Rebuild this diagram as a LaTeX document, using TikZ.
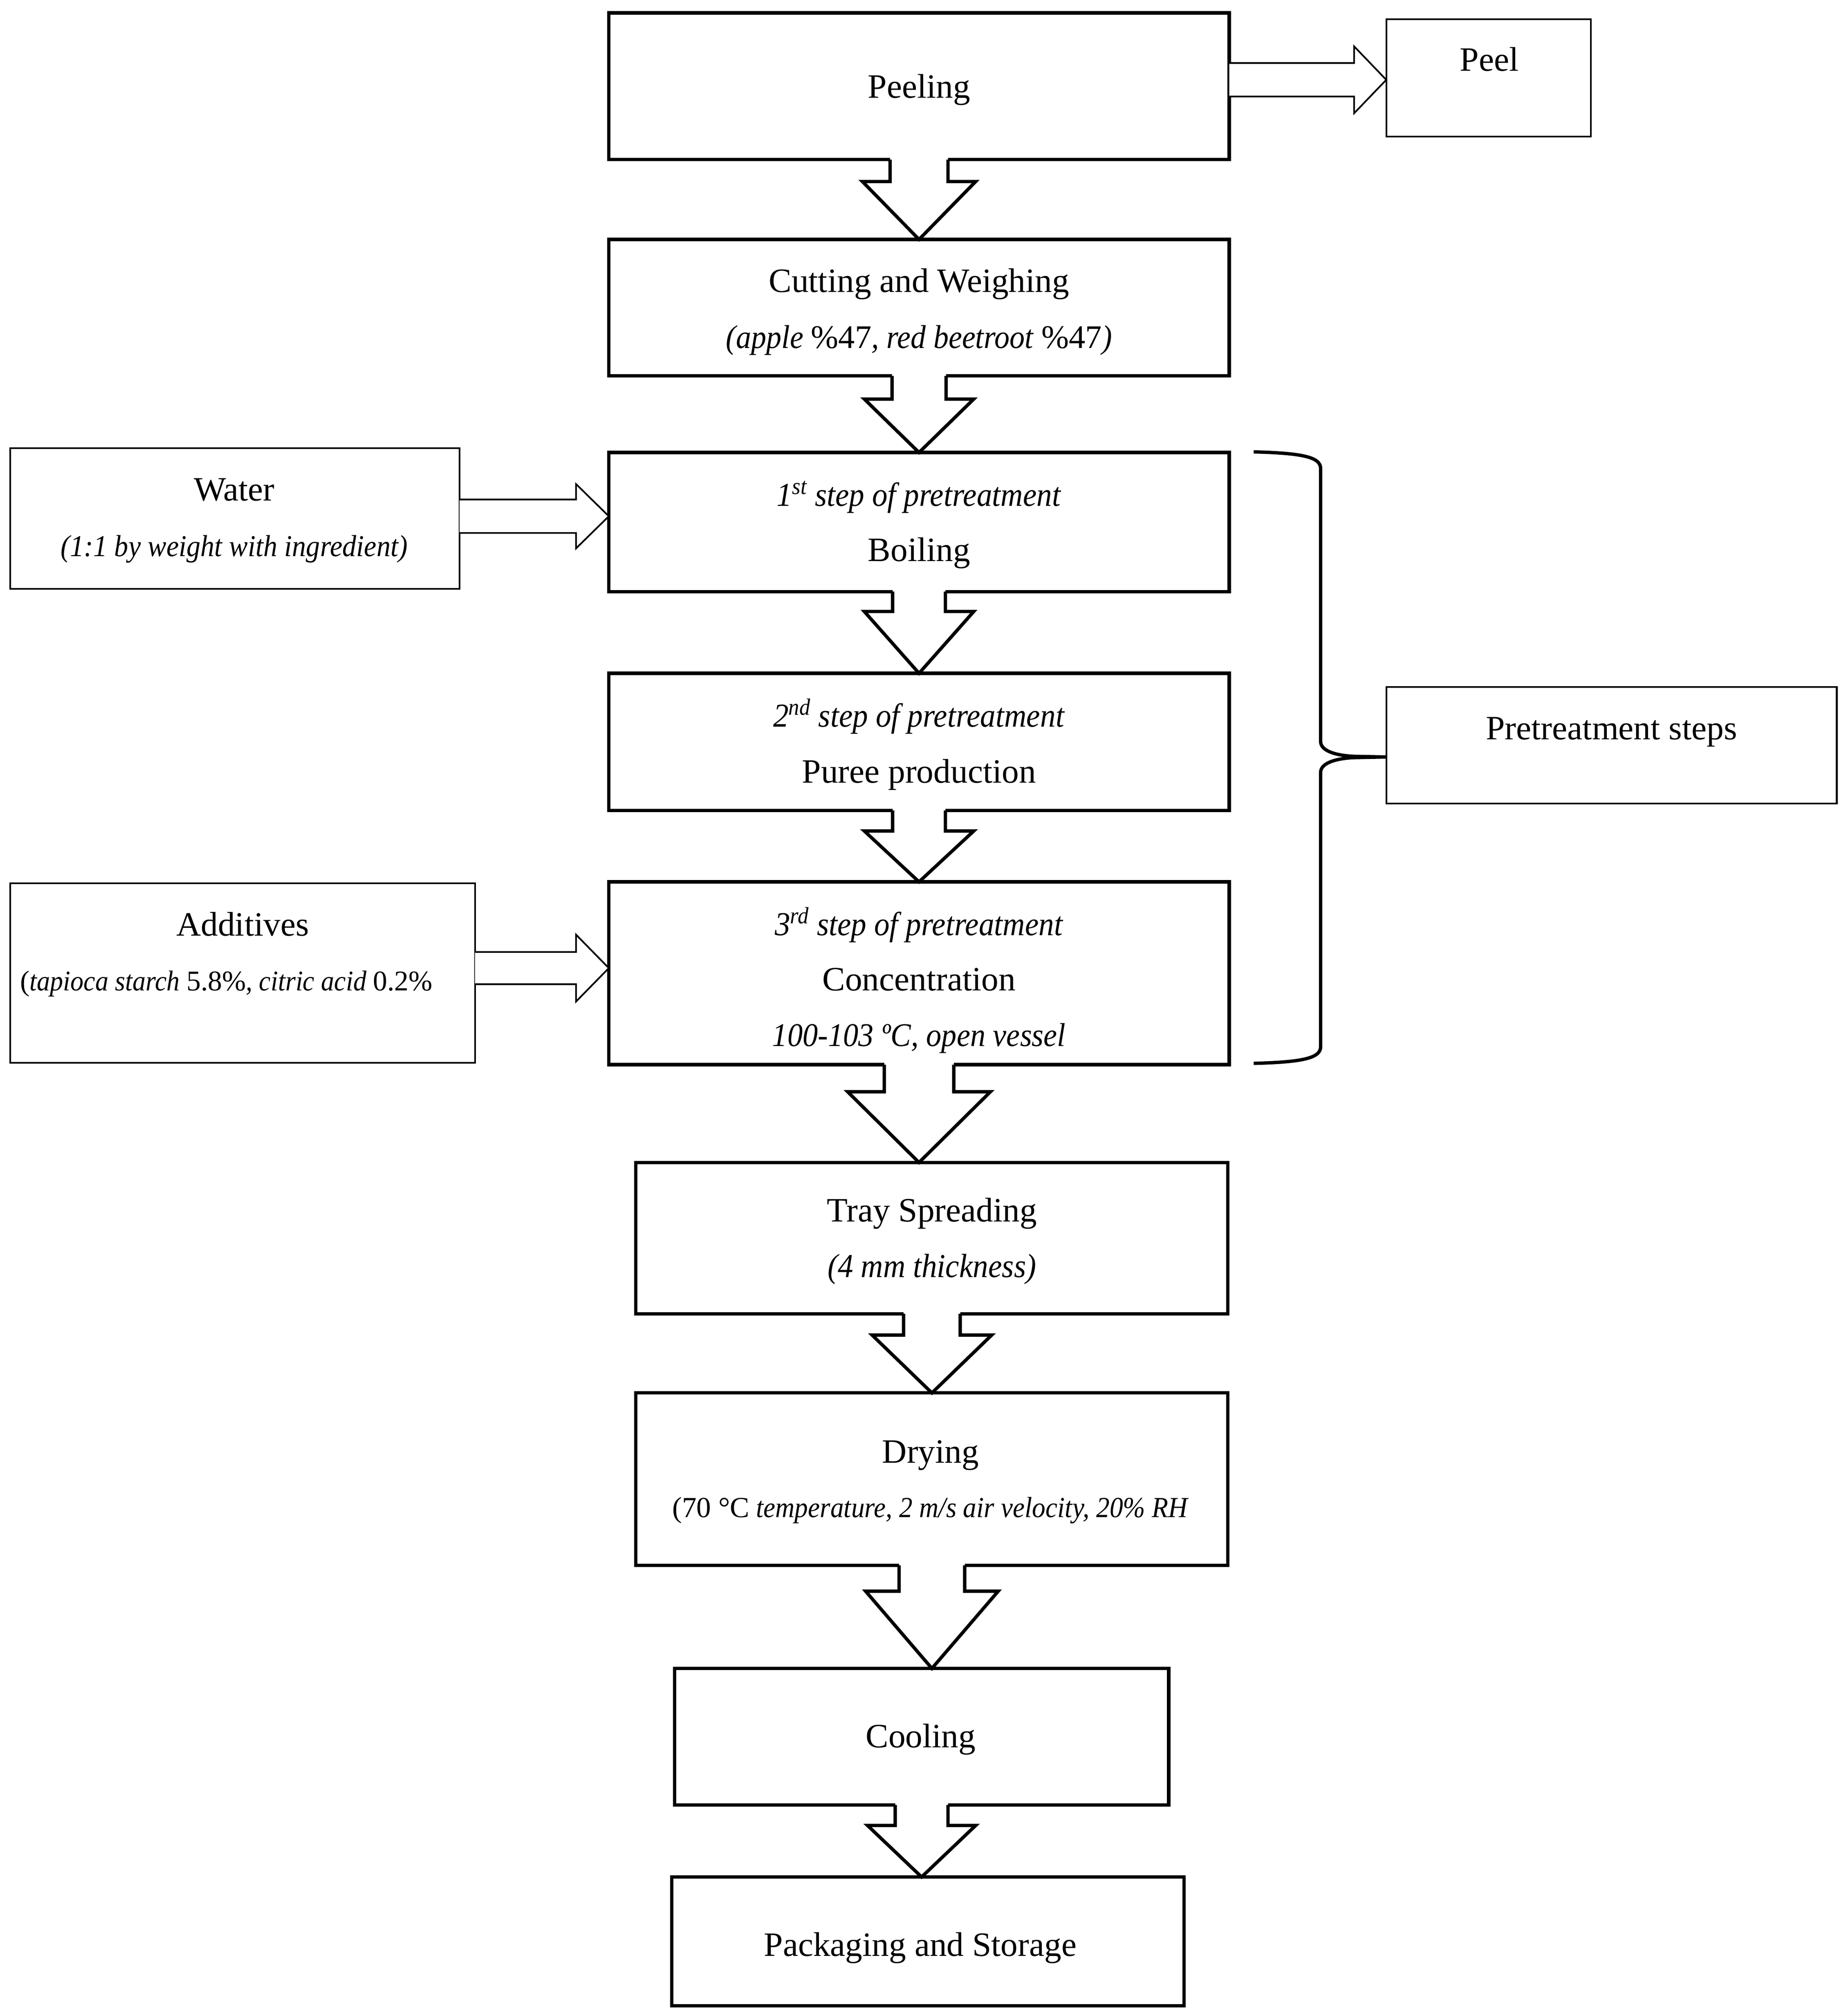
\documentclass[tikz,border=0pt]{standalone}
\usepackage{fontspec}
\setmainfont{Liberation Serif}[ItalicFeatures={FakeStretch=0.92}]
\usetikzlibrary{calc}
\newcommand\mainfs{\fontsize{26.5}{30}\selectfont}
\newcommand\fsz[1]{\fontsize{#1}{30}\selectfont}
\tikzset{
  thickbox/.style={draw=black, line width=2.6pt, fill=white, inner sep=0pt, outer sep=0pt, rectangle},
  thinbox/.style={draw=black, line width=1.3pt, fill=white, inner sep=0pt, outer sep=0pt, rectangle},
  bigarrow/.style={draw=black, line width=2.6pt, line join=miter},
  smallarrow/.style={draw=black, line width=1.3pt, line join=miter, fill=white},
  bracepath/.style={draw=black, line width=2.6pt, line cap=butt},
  txt/.style={anchor=base, inner sep=0pt, outer sep=0pt, font=\mainfs, text=black},
}
% #1 source node, #2 target node, #3 shaft half width, #4 head half width, #5 head start below source
\newcommand\dnarrow[5]{%
  \fill[white] ($(#1.south)+(-#3,-3)$) -- ($(#1.south)+(-#3,#5)$) -- ($(#1.south)+(-#4,#5)$) -- (#1.south |- #2.north) -- ($(#1.south)+(#4,#5)$) -- ($(#1.south)+(#3,#5)$) -- ($(#1.south)+(#3,-3)$) -- cycle;
  \draw[bigarrow] ($(#1.south)+(-#3,0)$) -- ($(#1.south)+(-#3,#5)$) -- ($(#1.south)+(-#4,#5)$) -- (#1.south |- #2.north) -- ($(#1.south)+(#4,#5)$) -- ($(#1.south)+(#3,#5)$) -- ($(#1.south)+(#3,0)$);}
% #1 source node, #2 tip coordinate, #3 shaft half width, #4 head half width, #5 head length
\newcommand\rtarrow[5]{%
  \draw[smallarrow] ($(#1.east |- #2)+(0,-#3)$) -- ($(#2)+(-#5,-#3)$) -- ($(#2)+(-#5,-#4)$) -- (#2) -- ($(#2)+(-#5,#4)$) -- ($(#2)+(-#5,#3)$) -- ($(#1.east |- #2)+(0,#3)$);}
\begin{document}
\begin{tikzpicture}[x=1pt,y=-1pt]
\useasboundingbox[fill=white] (0,0) rectangle (1434,1566);
% boxes
\node[thickbox, minimum width=482pt, minimum height=114pt] (peeling) at (714,67) {};
\node[thinbox, minimum width=159pt, minimum height=91pt] (peelbox) at (1156.5,60.5) {};
\node[thickbox, minimum width=482pt, minimum height=106pt] (cutting) at (714,239) {};
\node[thinbox, minimum width=349pt, minimum height=109.5pt] (water) at (182.5,402.75) {};
\node[thickbox, minimum width=482pt, minimum height=108pt] (boiling) at (714,405.5) {};
\node[thickbox, minimum width=482pt, minimum height=106.5pt] (puree) at (714,576.25) {};
\node[thinbox, minimum width=361pt, minimum height=139.5pt] (additives) at (188.5,755.75) {};
\node[thickbox, minimum width=482pt, minimum height=142pt] (conc) at (714,756) {};
\node[thinbox, minimum width=350pt, minimum height=90.5pt] (pretreat) at (1252,579) {};
\node[thickbox, minimum width=460pt, minimum height=117.5pt] (tray) at (724,961.75) {};
\node[thickbox, minimum width=460pt, minimum height=134pt] (drying) at (724,1149) {};
\node[thickbox, minimum width=384pt, minimum height=106pt] (cooling) at (716,1349) {};
\node[thickbox, minimum width=398pt, minimum height=100pt] (pack) at (721,1508) {};
% block arrows down
\dnarrow{peeling}{cutting}{22.5}{44}{17}
\dnarrow{cutting}{boiling}{21}{42.5}{18}
\dnarrow{boiling}{puree}{20.5}{42.5}{15.5}
\dnarrow{puree}{conc}{20.5}{42.5}{16}
\dnarrow{conc}{tray}{27}{55.5}{21}
\dnarrow{tray}{drying}{22}{46.5}{16.5}
\dnarrow{drying}{cooling}{25.5}{51.5}{20}
\dnarrow{cooling}{pack}{20.5}{42}{16}
% side arrows
\coordinate (tipPeel) at ($(peelbox.west)+(0,1.5)$);
\coordinate (tipWater) at ($(boiling.west)+(0,-4.5)$);
\coordinate (tipAdd) at ($(conc.west)+(0,-4)$);
\rtarrow{peeling}{tipPeel}{13}{26}{25}
\rtarrow{water}{tipWater}{13}{25}{25.5}
\rtarrow{additives}{tipAdd}{12.5}{26}{25.5}
% brace
\coordinate (bracetop) at (974,351);
\coordinate (bracebot) at (974,826);
\coordinate (bracetip) at ($(pretreat.west)+(0,9)$);
\draw[bracepath] (bracetop) .. controls (1012,352) and (1026,355) .. (1026,364) -- (1026,576)
  .. controls (1026,584) and (1040,587) .. (1052,587.5) -- (bracetip) -- (1052,588.5)
  .. controls (1040,589) and (1026,592) .. (1026,600) -- (1026,813)
  .. controls (1026,822) and (1012,825) .. (bracebot);
% texts
\node[txt] (tPeeling) at (714,76) {Peeling};
\node[txt] (tPeel) at (1157,55) {Peel};
\node[txt] (tCut1) at (714,227) {Cutting and Weighing};
\node[txt, font=\fsz{25.6}] (tCut2) at (714,270.5) {\textit{(apple }\%47\textit{, red beetroot }\%47\textit{)}};
\node[txt] (tW1) at (182,389) {Water};
\node[txt, font=\fsz{23.6}] (tW2) at (182,432) {\textit{(1:1 by weight with ingredient)}};
\node[txt, font=\fsz{26}] (tB1) at (714,393) {\textit{1\textsuperscript{st} step of pretreatment}};
\node[txt] (tB2) at (714,436) {Boiling};
\node[txt, font=\fsz{26}] (tP1) at (714,564.5) {\textit{2\textsuperscript{nd} step of pretreatment}};
\node[txt] (tP2) at (714,608) {Puree production};
\node[txt] (tA1) at (188.5,727) {Additives};
\node[txt, anchor=base west, font=\fsz{22.2}] (tA2) at (15.7,769.6) {(\textit{tapioca starch }5.8\%\textit{, citric acid }0.2\%};
\node[txt, font=\fsz{26}] (tC1) at (714,726.5) {\textit{3\textsuperscript{rd} step of pretreatment}};
\node[txt] (tC2) at (714,769.6) {Concentration};
\node[txt, font=\fsz{25.7}] (tC3) at (714,812.7) {\textit{100-103 ºC, open vessel}};
\node[txt] (tPre) at (1252,574.5) {Pretreatment steps};
\node[txt] (tT1) at (724,949) {Tray Spreading};
\node[txt, font=\fsz{26}] (tT2) at (724,992) {\textit{(4 mm thickness)}};
\node[txt] (tD1) at (723,1136.4) {Drying};
\node[txt, font=\fsz{22.6}] (tD2) at (723,1178.5) {(70 °C\textit{ temperature, 2 m/s air velocity, 20\% RH}};
\node[txt] (tCo) at (715.3,1357.5) {Cooling};
\node[txt] (tPk) at (715,1519.4) {Packaging and Storage};
\end{tikzpicture}
\end{document}
